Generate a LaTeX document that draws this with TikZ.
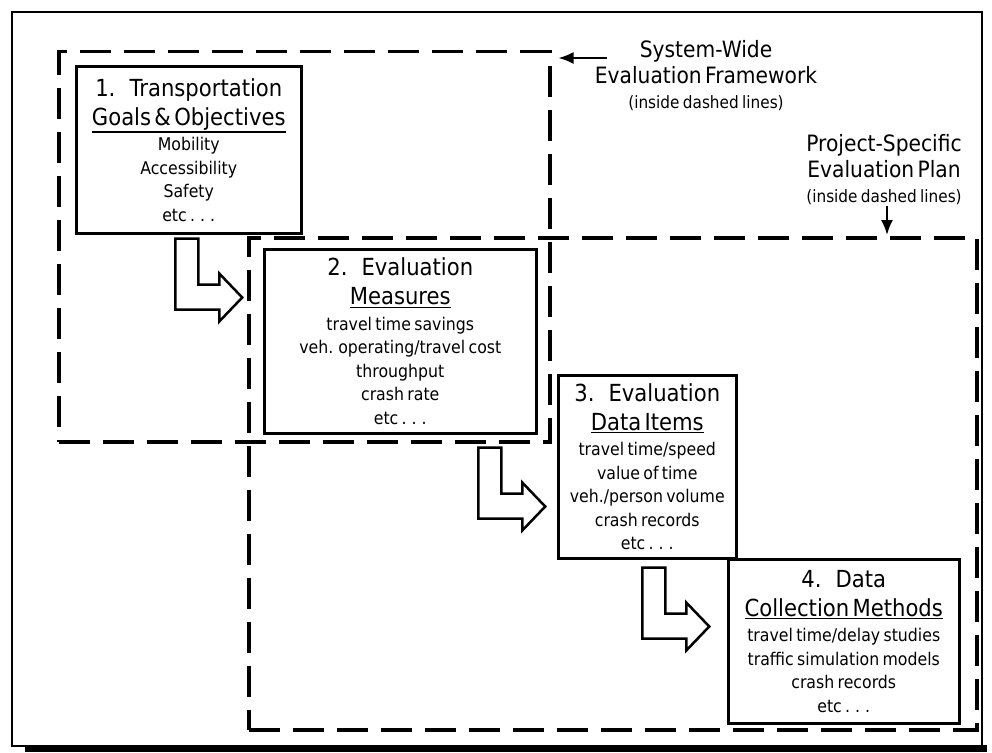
\documentclass[tikz,border=0pt]{standalone}
\usepackage{fontspec}
\setmainfont{DejaVu Sans}[FakeStretch=0.9, WordSpace=1.3]
\usepackage{tikz}
\usetikzlibrary{
  positioning, calc, arrows.meta
}
\tikzset{
	stagebox/.style={draw, line width=2.5pt, fill=white, inner sep=0pt, align=center, anchor=north west}
}
\tikzset{
	framebox/.style={draw, line width=3.5pt, dash pattern=on 31pt off 13pt, inner sep=0pt, anchor=north west}
}
\tikzset{
	bentarrow/.style={line width=2.5pt, line join=miter, fill=white}
}
\tikzset{
	notearrow/.style={line width=2pt, -{Latex[length=15pt,width=12pt]}}
}
\newcommand{\stagehead}{\fontsize{23.5}{29}\selectfont}
\newcommand{\stageitem}{\fontsize{17.5}{23.5}\selectfont}
\newcommand{\notehead}{\fontsize{22.5}{26}\selectfont}
\newcommand{\notesmall}{\fontsize{17}{25}\selectfont}
\newcommand{\numgap}{\hspace{0.6em}}
\newcommand{\stageunder}[1]{\leavevmode\vtop{\hbox{#1}\kern1.5pt\hrule height 1.3pt}}

\begin{document}
\begin{tikzpicture}[x=1pt, y=-1pt]
      \useasboundingbox (0,0) rectangle (992,752);
      \draw[line width=1.6pt] (12,12) rectangle (982,746);
      \fill (25,745) rectangle (987,752);
      \node[framebox, minimum width=491pt, minimum height=390pt] (sysframe) at (57,50) {};
      \node[framebox, minimum width=728pt, minimum height=492pt] (projframe) at (247,236) {};
      \node[stagebox, minimum width=225pt, minimum height=167pt, text width=221pt] (goals) at (75,65)
        {\stagehead 1.\numgap Transportation\\ \stageunder{Goals \& Objectives}\par\vskip2pt
         \stageitem Mobility\\ Accessibility\\ Safety\\ etc . . .\par};
      \node[stagebox, minimum width=272pt, minimum height=184pt, text width=268pt] (measures) at (263,248)
        {\stagehead 2.\numgap Evaluation\\ \stageunder{Measures}\par\vskip2pt
         \stageitem travel time savings\\ veh. operating/travel cost\\ throughput\\ crash rate\\ etc . . .\par};
      \node[stagebox, minimum width=178pt, minimum height=183pt, text width=176pt] (items) at (557,374)
        {\stagehead 3.\numgap Evaluation\\ \stageunder{Data Items}\par\vskip2pt
         \stageitem travel time/speed\\ value of time\\ veh./person volume\\ crash records\\ etc . . .\par};
      \node[stagebox, minimum width=231pt, minimum height=164pt, text width=229pt] (methods) at (727,558)
        {\stagehead 4.\numgap Data\\ \stageunder{Collection Methods}\par\vskip2pt
         \stageitem travel time/delay studies\\ traffic simulation models\\ crash records\\ etc . . .\par};
      \foreach \src/\dx/\dy in {goals/-13.5/4, measures/78/13, items/-5/8}
        \draw[bentarrow] ($(\src.south)+(\dx,\dy)$) -- ++(23,0) -- ++(0,46) -- ++(21,0) -- ++(0,-11)
          -- ++(23,24) -- ++(-23,24) -- ++(0,-12) -- ++(-44,0) -- cycle;
      \node[text width=270pt, align=center] (syslbl) at (706,76)
        {\notehead System-Wide\\ Evaluation Framework\par \notesmall (inside dashed lines)\par};
      \node[text width=200pt, align=center] (projlbl) at (884,170)
        {\notehead Project-Specific\\ Evaluation Plan\par \notesmall (inside dashed lines)\par};
      \coordinate (sysarr) at (607,58);
      \coordinate (projarr) at (887,206);
      \draw[notearrow, shorten >=7pt] (sysarr) -- (sysarr -| sysframe.east);
      \draw[notearrow, shorten >=1pt] (projarr) -- (projarr |- projframe.north);
    \end{tikzpicture}
\end{document}
